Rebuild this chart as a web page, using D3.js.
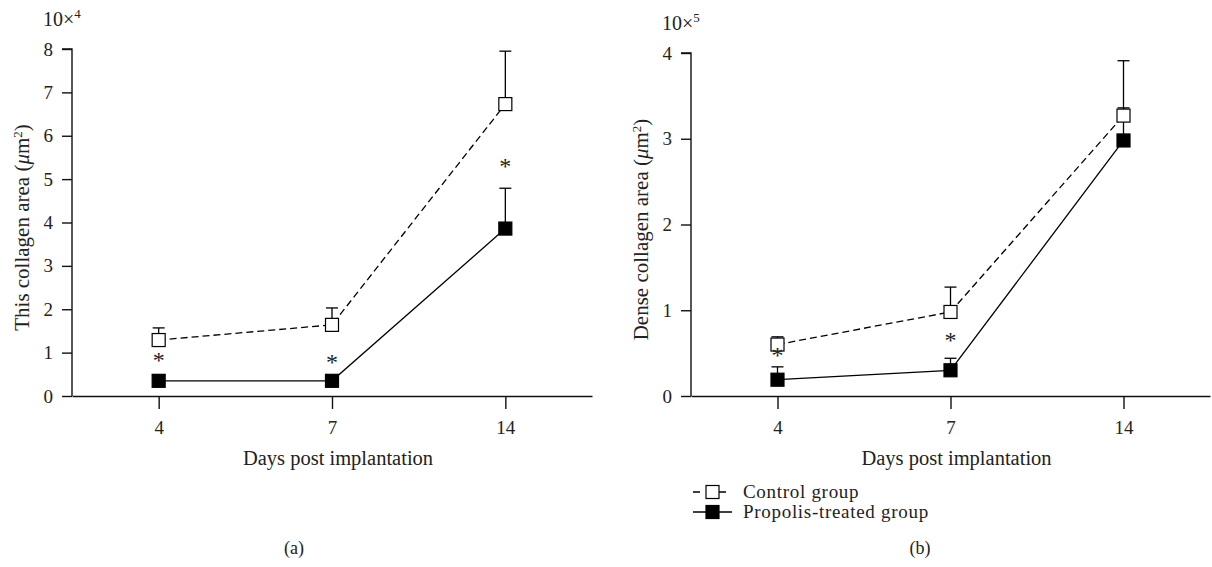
<!DOCTYPE html>
<html>
<head>
<meta charset="utf-8">
<title>Collagen area</title>
<style>
  body { margin: 0; background: #fff; }
  text { font-family: "Liberation Serif", "DejaVu Serif", serif; fill: #222; }
</style>
</head>
<body>
<svg width="1212" height="567"></svg>
<script src="https://d3js.org/d3.v7.min.js"></script>
<script>

// days on the x axis (categorical)
const days = ["4", "7", "14"];

// panel (a): thin collagen area, x 10^4 um^2
const thinControl = [1.29, 1.64, 6.73];
const thinControlErr = [0.28, 0.39, 1.22];
const thinPropolis = [0.35, 0.35, 3.86];
const thinPropolisErr = [0, 0, 0.93];
const thinStar = [true, true, true];

// panel (b): dense collagen area, x 10^5 um^2
const denseControl = [0.60, 0.98, 3.27];
const denseControlErr = [0.09, 0.29, 0.64];
const densePropolis = [0.19, 0.30, 2.98];
const densePropolisErr = [0.15, 0.14, 0.38];
const denseStar = [true, true, false];

const svg = d3.select("svg");

function panel(opt) {
  const g = svg.append("g");
  const x = d3.scalePoint().domain(days).range([opt.x0, opt.x1]).padding(0.5);
  const y = d3.scaleLinear().domain([0, opt.ymax]).range([opt.y0, opt.y1]);

  // axes
  const ya = g.append("g").attr("transform", `translate(${opt.x0},0)`)
    .call(d3.axisLeft(y).ticks(opt.ymax).tickSize(10).tickPadding(9).tickFormat(d3.format("d")));
  const xa = g.append("g").attr("transform", `translate(0,${opt.y0})`)
    .call(d3.axisBottom(x).tickSize(13).tickPadding(12).tickSizeOuter(0));
  [ya, xa].forEach(a => {
    a.attr("font-size", null).attr("font-family", null);
    a.select(".domain").attr("stroke", "#111").attr("stroke-width", 1.4);
    a.selectAll(".tick line").attr("stroke", "#111").attr("stroke-width", 1.4);
    a.selectAll("text").style("font-size", "19px").attr("fill", "#222");
  });
  ya.select(".domain").attr("d", `M0,${opt.y0}V${opt.y1}H-10`);

  // scale label 10x^n
  const sl = g.append("text").attr("x", opt.x0 - 29).attr("y", opt.y1 - 23)
    .style("font-size", "20px");
  sl.append("tspan").text("10×");
  sl.append("tspan").attr("dy", -8).style("font-size", "13px").text(opt.exp);

  // y title
  const yt = g.append("text")
    .attr("transform", `translate(${opt.x0 - 43},${(opt.y0 + opt.y1) / 2 + 5}) rotate(-90)`)
    .attr("text-anchor", "middle").style("font-size", "21px");
  yt.append("tspan").text(opt.ytitle + " (");
  yt.append("tspan").style("font-style", "italic").text("μ");
  yt.append("tspan").text("m");
  yt.append("tspan").attr("dy", -7).style("font-size", "13px").text("2");
  yt.append("tspan").attr("dy", 7).text(")");

  // x title
  g.append("text").attr("x", (opt.x0 + opt.x1) / 2 + 6).attr("y", 465)
    .attr("text-anchor", "middle").style("font-size", "20.5px").text("Days post implantation");

  g.append("text").attr("x", opt.capX).attr("y", 554)
    .attr("text-anchor", "middle").style("font-size", "18px").text(opt.cap);

  const line = d3.line().x((d, i) => x(days[i])).y(d => y(d));

  const series = [
    { v: opt.control, e: opt.controlErr, fill: "#fff", dash: "7,4" },
    { v: opt.propolis, e: opt.propolisErr, fill: "#000", dash: null }
  ];

  series.forEach(s => {
    g.append("path").datum(s.v).attr("d", line)
      .attr("fill", "none").attr("stroke", "#000").attr("stroke-width", 1.3)
      .attr("stroke-dasharray", s.dash);
    // error bars, upward only
    s.v.forEach((v, i) => {
      if (s.e[i] <= 0) return;
      const cx = x(days[i]);
      g.append("line").attr("x1", cx).attr("x2", cx).attr("y1", y(v)).attr("y2", y(v + s.e[i]))
        .attr("stroke", "#000").attr("stroke-width", 1.3);
      g.append("line").attr("x1", cx - 6).attr("x2", cx + 6)
        .attr("y1", y(v + s.e[i])).attr("y2", y(v + s.e[i]))
        .attr("stroke", "#000").attr("stroke-width", 1.3);
    });
  });

  series.forEach(s => {
    g.selectAll(null).data(s.v).join("rect")
      .attr("x", (d, i) => x(days[i]) - 6.5).attr("y", d => y(d) - 6.5)
      .attr("width", 13).attr("height", 13)
      .attr("fill", s.fill).attr("stroke", "#000").attr("stroke-width", 1.2);
  });

  // significance stars above propolis points
  opt.propolis.forEach((v, i) => {
    if (!opt.star[i]) return;
    g.append("text").attr("x", x(days[i])).attr("y", y(v + opt.propolisErr[i]) + opt.starDy[i])
      .attr("text-anchor", "middle").style("font-size", "24px").attr("fill", "#555").text("*")
      .attr("dy", "0.72em");
  });
  return { x, y };
}

panel({
  x0: 72, x1: 592, y0: 396, y1: 49, ymax: 8, exp: "4",
  ytitle: "This collagen area", cap: "(a)", capX: 294,
  control: thinControl, controlErr: thinControlErr,
  propolis: thinPropolis, propolisErr: thinPropolisErr,
  star: thinStar, starDy: [-30, -28, -32]
});

panel({
  x0: 691, x1: 1210, y0: 396, y1: 53, ymax: 4, exp: "5",
  ytitle: "Dense collagen area", cap: "(b)", capX: 920,
  control: denseControl, controlErr: denseControlErr,
  propolis: densePropolis, propolisErr: densePropolisErr,
  star: denseStar, starDy: [-21, -28, 0]
});

// legend
const leg = svg.append("g").attr("transform", "translate(693,0)");
const legItems = [
  { label: "Control group", fill: "#fff", dash: "7,6", y: 492 },
  { label: "Propolis-treated group", fill: "#000", dash: null, y: 512 }
];
legItems.forEach(it => {
  leg.append("line").attr("x1", 0).attr("x2", 39).attr("y1", it.y).attr("y2", it.y)
    .attr("stroke", "#000").attr("stroke-width", 1.3).attr("stroke-dasharray", it.dash);
  leg.append("rect").attr("x", 13).attr("y", it.y - 6.5).attr("width", 13).attr("height", 13)
    .attr("fill", it.fill).attr("stroke", "#000").attr("stroke-width", 1.2);
  leg.append("text").attr("x", 50).attr("y", it.y + 6).style("font-size", "19px")
    .style("letter-spacing", "0.7px").text(it.label);
});

</script>
</body>
</html>
